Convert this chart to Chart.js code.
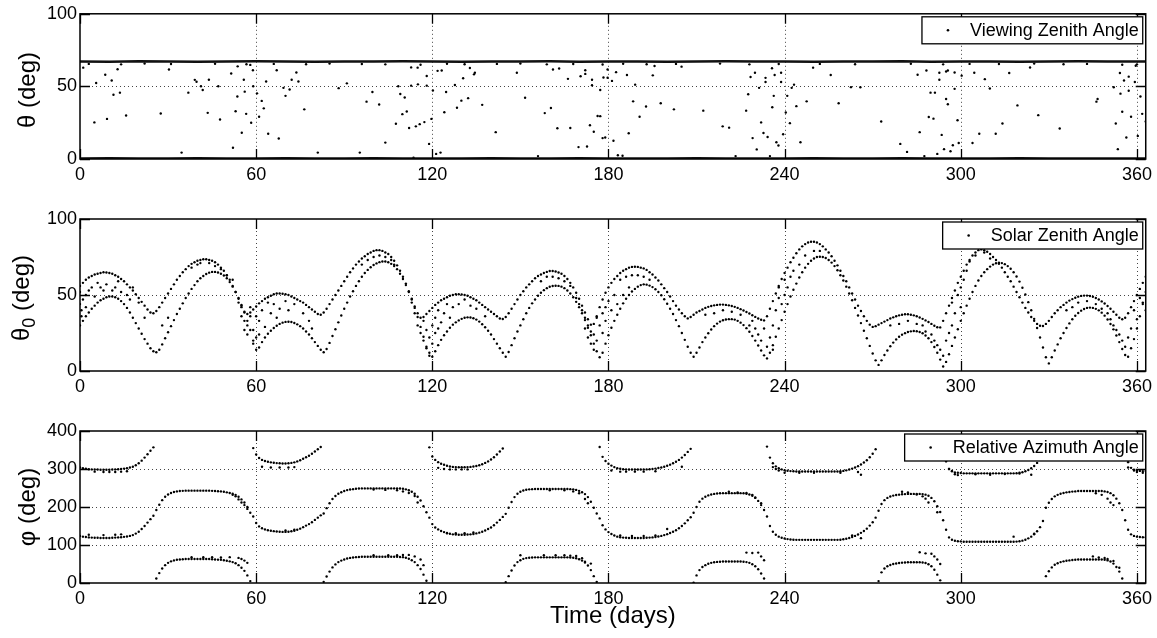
<!DOCTYPE html>
<html>
<head>
<meta charset="utf-8">
<script src="https://cdn.jsdelivr.net/npm/chart.js@4.4.1/dist/chart.umd.min.js"></script>
<style>
  html, body { margin: 0; padding: 0; background: #fff; }
  #wrap { position: relative; width: 1157px; height: 638px; }
  canvas { position: absolute; left: 0; }
</style>
</head>
<body>
<div id="wrap">
  <canvas id="c1" width="1157" height="190" style="top:0"></canvas>
  <canvas id="c2" width="1157" height="212" style="top:190px"></canvas>
  <canvas id="c3" width="1157" height="236" style="top:402px"></canvas>
</div>
<script>
const FONT = '"Liberation Sans", Arial, Helvetica, sans-serif';

// axis ticks
const xTicks = [0, 60, 120, 180, 240, 300, 360];
const zenithTicks = [0, 50, 100];
const azimuthTicks = [0, 100, 200, 300, 400];

// --- viewing zenith angle (top panel) ---
// the two dense bands, read every ~10 days
const vzaBandDays = [0, 10, 20, 30, 40, 50, 60, 70, 80, 90, 100, 110, 120, 130, 140, 150, 160, 170, 180,
  190, 200, 210, 220, 230, 240, 250, 260, 270, 280, 290, 300, 310, 320, 330, 340, 350, 360, 363];
const vzaHighBand = [67.2, 67, 67.3, 67.1, 67, 67.2, 67.3, 67.1, 67, 67.2, 67.1, 67.3, 67.2, 67, 67.1, 67.2, 67.3, 67, 67.1,
  67.2, 67, 67.1, 67.3, 67.2, 67.1, 67, 67.2, 67.1, 67.3, 67, 67.2, 67.1, 67, 67.2, 67.3, 67.1, 67.2, 67.1];
const vzaLowBand = [0.4, 0.5, 0.4, 0.3, 0.5, 0.4, 0.4, 0.5, 0.3, 0.4, 0.5, 0.4, 0.4, 0.3, 0.5, 0.4, 0.4, 0.5, 0.4,
  0.3, 0.4, 0.5, 0.4, 0.4, 0.3, 0.5, 0.4, 0.4, 0.5, 0.4, 0.3, 0.4, 0.5, 0.4, 0.4, 0.3, 0.4, 0.4];
// dots hanging just under the high band
const vzaNearDays = [3, 14, 22, 31, 46, 58, 66, 77, 85, 96, 104, 116, 125, 131, 142, 150, 159, 168, 178, 185, 193,
  203, 218, 228, 238, 252, 264, 283, 294, 303, 313, 325, 335, 343, 355, 360];
const vzaNearVals = [65.5, 65.2, 65.8, 65.4, 65.6, 64.8, 65.5, 65.3, 65.7, 65.4, 65.2, 64.9, 65.6, 65.3, 65.5, 65.8,
  65.2, 65.4, 65.1, 65.6, 65.3, 65.5, 65.7, 65.2, 65.4, 65.5, 65.3, 65.6, 65.2, 65.5, 65.4, 65.7, 65.3, 65.5, 64.9, 65.2];
// scattered viewing zenith points
const vzaDays = [1.1, 4.9, 5.5, 8.6, 9.2, 10.8, 11.4, 12.8, 13.6, 15.7, 27.5, 30.3, 34.6, 36.9, 39.1, 39.7, 41.2, 41.8,
  43.5, 43.9, 47.1, 47.7, 51.5, 52.1, 53, 53.6, 53.7, 55.1, 55.8, 56.1, 56.6, 56.7, 58.3, 58.9, 59, 60.3, 61, 61.9,
  62.6, 63.4, 64.1, 67, 67.7, 69.3, 70, 71.4, 72.1, 73.7, 74.4,
  76.4, 81, 88.1, 90.9, 95.3, 97.6, 99.6, 101.9, 104, 107.6, 108.4, 109.1, 109.8, 110.6, 111.3, 112.1, 112.8, 112.8,
  113.6, 114.4, 115, 115.1, 115.7, 117.3, 118.1, 118.1, 118.9, 119.7, 120.2, 121.3, 121.8, 122.8, 123.2, 124.1, 124.7,
  127.7, 128.4, 129.9, 130.5, 132.2, 132.8, 134.2, 134.5, 137, 141.6, 148.8, 151.6, 156, 158.3, 160.4, 161.1, 162.6,
  163.2, 166.2, 167, 169.8, 170.5, 172.1, 172.1, 172.7, 173.7, 174.4, 174.4, 175, 176.3,
  177.2, 177.2, 178, 178.3, 178.9, 179.7, 179.7, 181.2, 181.7, 182.6, 183.2, 184.8, 186.3, 186.9, 188.4, 189.1, 190.6,
  192.8, 195.1, 195.7, 197.8, 202.3, 204.9, 212.3, 218.9, 221.1, 223.3, 226.9, 227.6, 228.4, 229.1, 229.9, 230.5,
  231.3, 232, 232.8, 233.5, 233.5, 234.2, 235, 235.7, 235.8, 236.3, 236.6, 237.2, 237.9, 238.8, 238.8, 239.5, 240.4,
  240.9, 241.8, 242.4, 243.2, 244, 245.4, 247.5, 249.7, 255.7, 258.4, 262.6, 265.8,
  272.9, 279.4, 281.7, 285.3, 286, 287.6, 288.3, 289.1, 289.7, 290.7, 291.2, 292, 292.7, 292.7, 293.5, 294.3, 295, 295,
  295.6, 295.6, 296.5, 297.3, 297.9, 297.9, 298.9, 299.3, 300.3, 304, 304.6, 306.3, 308.2, 309.9, 311.9, 314.2, 316.5,
  319.3, 323.6, 326.4, 333.7, 346.2, 346.6, 352.1, 352.8, 353.5, 354.2, 354.4, 355, 355.6, 356.4, 357.2, 357.2, 358,
  359.3, 359.6, 360.3, 361.2, 361.8, 363];
const vzaVals = [62.9, 25.2, 52.3, 58, 27.6, 54.1, 44.2, 61.8, 45.7, 30, 31.3, 61.6, 4.4, 45.7, 54.5, 53.2, 50.1, 47.5,
  31.8, 54.6, 50.1, 27.2, 58.9, 7.7, 32.9, 43, 63.8, 18.1, 54.6, 46.4, 31.1, 65.3, 25, 61.1, 50.1, 45.2, 29.1, 40,
  34.9, 53.4, 17.4, 61.1, 14.1, 49, 43.5, 47.9, 54.6, 59.6, 53.4,
  34.2, 4.4, 48.8, 52.1, 4.4, 39.5, 46.1, 37.5, 11.3, 24.3, 50.1, 44.8, 30.9, 42.4, 32.7, 21.4, 63.1, 50.5,
  0.9, 22.5, 62.9, 51.4, 24, 25.4, 57.2, 50.5, 10.4, 27.6, 47.2, 3.5, 60.7, 4.4, 60.9, 32.2, 46.1,
  51, 35.3, 40.2, 55.6, 41.9, 62.7, 58.3, 59.4, 37.3, 18.5, 59.4, 42.2, 2, 31.6, 35.1, 61.6, 21.2,
  62.3, 55.2, 21.4, 8.2, 57, 61.1, 58.6, 8.6, 23.2, 54.6, 50.8, 18.8, 29.6,
  47.5, 29.5, 14.4, 56.1, 14.8, 61.6, 56, 53.8, 12.6, 59.8, 2.6, 2.2, 57.8, 17.7, 39.7, 51.2, 29.1,
  36.2, 57.6, 64, 38.4, 34.2, 63.6, 33.3, 22.5, 21.6, 2, 33.3, 44.6, 56.5, 14.4, 59.4, 6.6,
  49, 25.2, 17.9, 53, 55.9, 15.2, 2, 62.5, 35.6, 43.5, 57.8, 11.5, 9.3, 59.4, 53, 17, 32,
  43.5, 24.7, 49, 51.2, 36.4, 11.5, 39.7, 62.9, 57.8, 38.4, 49.5, 49.4,
  25.8, 10.4, 4.9, 58, 18.5, 2, 60.9, 28.9, 45.7, 27.8, 45.7, 3.5, 59.4, 54.6, 16.6, 6.8, 41.3, 60.3,
  37.7, 60.9, 5.3, 9.5, 59.6, 48.3, 26.7, 11, 57.4, 11, 59.4, 17.4, 55, 48.6, 17.4, 24.5, 59.2,
  36.9, 63, 30.2, 21, 39.5, 41.3, 49.4, 24.5, 6.8, 59.2, 45, 32.5, 54.1, 14.8, 56.7, 47, 29.1,
  53, 64.2, 15.9, 43, 31.1, 25.8];

// --- solar zenith angle (middle panel), one value per day from day 0 ---
const szaUpper = [
  56, 58, 60, 61.5, 62.5, 63.5, 64, 64.5, 65, 64.8,
  64.5, 64, 63, 62, 60.5, 59, 57, 55, 53, 50.5,
  48, 45.5, 43, 40.5, 38.5, 38, 39.5, 42, 45, 48,
  51, 54, 57, 60, 62.5, 65, 67, 69, 70.5, 71.5,
  72.5, 73, 73.5, 73.5, 73, 72.5, 71.5, 70, 68, 66,
  63, 60, 56, 52, 47.5, 43, 39, 37.5, 38.5, 40.5,
  42.5, 44.5, 46, 47.5, 48.5, 49.5, 50.5, 51, 51, 50.8,
  50.5, 50, 49, 48, 47, 46, 45, 43.5, 42, 40.5,
  39, 37.5, 37, 38.5, 41, 44, 47, 50, 53, 56,
  59, 62, 65, 67.5, 70, 72, 74, 75.5, 77, 78,
  79, 79.5, 79.5, 79, 78, 77, 75, 72.5, 69.5, 66,
  62, 57.5, 52.5, 47.5, 42.5, 38, 35, 35.5, 37.5, 39.5,
  41.5, 43.5, 45, 46.5, 47.5, 48.5, 49.5, 50, 50.5, 50.5,
  50.3, 50, 49.5, 48.5, 47.5, 46.5, 45, 43.5, 42, 40.5,
  39, 37.5, 36, 34.5, 34.2, 35.5, 38, 41, 44, 47,
  50, 52.5, 55, 57, 59, 61, 62.5, 63.5, 64.5, 65.2,
  65.8, 65.8, 65.5, 64.8, 64, 62.5, 60.5, 58, 55, 51.5,
  47.5, 43, 38.5, 34, 30.5, 31, 36, 42, 47, 51.5,
  55, 58, 60.5, 62.5, 64.5, 66, 67, 68, 68.5, 68.6,
  68.5, 68, 67.5, 66.5, 65, 63.5, 61.5, 59.5, 57, 54.5,
  52, 49, 46, 43, 40.5, 38, 36, 34.6, 35.5, 37,
  38.5, 39.5, 40.5, 41.5, 42.2, 42.8, 43.2, 43.5, 43.7, 43.7,
  43.5, 43.2, 42.8, 42.2, 41.5, 40.7, 39.8, 38.8, 37.8, 36.7,
  35.6, 34.5, 33.7, 33.3, 36, 41, 46, 51, 56, 60.5,
  64.5, 68, 71.5, 74.5, 77.5, 80, 82, 83.5, 84.5, 85,
  85, 84.5, 83.5, 82, 80, 78, 75.5, 72.5, 69.5, 66,
  62.5, 59, 55, 51, 47, 43, 39.5, 36, 33, 30.5,
  29, 29.5, 30.5, 31.5, 32.5, 33.5, 34.5, 35.3, 36, 36.6,
  37, 37.3, 37.3, 37, 36.6, 36, 35.2, 34.3, 33.3, 32.2,
  31, 29.8, 28.8, 28.7, 33, 38, 43, 48, 53, 58,
  62, 66, 70, 73, 76, 78, 79.5, 80, 79.5, 78.5,
  77, 75, 73, 70.5, 68, 65, 62, 59, 55.5, 52,
  48.5, 45, 41.5, 38.5, 35.5, 33, 31, 29.8, 29.6, 31,
  33, 35.5, 38, 40, 42, 43.5, 45, 46.3, 47.3, 48.2,
  48.9, 49.4, 49.6, 49.6, 49.3, 48.8, 48, 47, 45.8, 44.4,
  42.8, 41, 39, 37, 35, 34, 35, 38, 42, 46,
  50, 54, 58, 62];
const szaLower = [
  30, 33, 36, 38.5, 41, 43, 45, 46.5, 47.5, 48.5,
  49, 49, 48.5, 47.5, 46, 44, 41.5, 38.5, 35, 31.5,
  28, 24.5, 21, 18, 15, 13, 12.3, 14, 17.5, 21.5,
  25.5, 29.5, 33.5, 37.5, 41, 44.5, 48, 51, 54, 56.5,
  59, 61, 62.5, 63.8, 64.7, 65.2, 65.2, 64.8, 64, 62.8,
  61, 58.5, 55.5, 52, 48, 43.5, 38.5, 33, 27, 20,
  14, 15.5, 19, 22, 24.5, 26.5, 28.3, 29.8, 31, 31.8,
  32.3, 32.4, 32.2, 31.6, 30.7, 29.5, 28, 26, 24, 21.5,
  19, 16.5, 14, 12.3, 14.5, 18.5, 23, 27.5, 32, 36.5,
  41, 45, 49, 52.5, 56, 59, 62, 64.5, 66.5, 68.3,
  69.7, 70.8, 71.6, 72, 72, 71.5, 70.5, 69, 67, 64,
  60.5, 56.5, 52, 47, 41.5, 35.5, 29, 22.5, 16, 10,
  9.4, 13, 17, 20.5, 23.5, 26, 28.5, 30.5, 32, 33.3,
  34.3, 35, 35.3, 35.2, 34.7, 33.8, 32.5, 30.8, 28.8, 26.5,
  24, 21, 18, 15, 12, 9.4, 12.5, 17, 21.5, 26,
  30, 34, 38, 41.5, 44.5, 47, 49.5, 51.5, 53.2, 54.5,
  55.4, 55.9, 56.1, 56, 55.5, 54.5, 53, 51, 48.5, 45.5,
  42, 38, 33.5, 28.5, 23.5, 18, 13, 9, 12, 18,
  23.5, 28.5, 33, 37, 41, 44.5, 47.5, 50, 52.3, 54,
  55.5, 56.5, 57, 56.8, 56.2, 55.2, 53.8, 52, 49.8, 47.2,
  44.2, 41, 37.5, 33.5, 29.5, 25, 20.5, 16, 12, 9.4,
  12, 15.5, 19, 22, 24.8, 27.3, 29.5, 31.2, 32.5, 33.4,
  33.9, 34.1, 34.1, 33.8, 33, 31.8, 30.2, 28.2, 25.8, 23,
  20, 16.8, 13.5, 10.3, 8.3, 12, 17, 22.5, 28, 33.5,
  39, 44, 49, 53.5, 57.5, 61.5, 65, 68, 70.5, 72.5,
  74, 75, 75.2, 75, 74.3, 73, 71.3, 69, 66.3, 63,
  59.5, 55.5, 51, 46.5, 41.5, 36.5, 31.5, 26.5, 21.5, 16.5,
  11.5, 7, 4, 7, 10.5, 13.5, 16.3, 18.7, 20.8, 22.5,
  23.9, 24.9, 25.7, 26.1, 26.3, 26.2, 25.7, 24.8, 23.4, 21.5,
  19, 15.8, 12, 7.5, 3, 6, 11, 16.5, 22, 27.5,
  33, 38, 43, 47.5, 52, 56, 59.5, 62.5, 65, 67,
  68.7, 70, 70.9, 71.3, 71, 70.3, 69, 67.3, 65, 62.2,
  58.8, 54.8, 50.3, 45.3, 40, 34.3, 28.3, 22, 15.5, 9,
  5, 9, 13.5, 17.5, 21.5, 25, 28.3, 31.3, 34, 36.3,
  38.2, 39.7, 40.8, 41.5, 41.7, 41.5, 40.9, 39.9, 38.4, 36.4,
  33.9, 30.9, 27.4, 23.4, 19, 14.5, 10.5, 9.4, 15, 21,
  28, 36, 44, 52];
// scattered solar zenith points between the two tracks
const szaDays = [0, 0, 0.5, 0.5, 1, 2, 2, 3, 4, 5, 6, 7, 8, 9, 11, 12, 13, 14, 16, 17, 18, 20, 22, 28, 30, 38, 40, 41,
  44, 46, 48, 50, 52, 54, 55, 55, 56, 56, 57, 57, 58, 58, 59, 59, 60, 60, 61, 61, 62, 63, 64, 65, 66, 67, 68, 70, 71,
  73, 76, 78, 79,
  96, 98, 100, 102, 104, 106, 107, 113, 114, 115, 116, 117, 117, 118, 118, 119, 119, 120, 120, 121, 121, 122, 122, 123,
  124, 125, 126, 127, 129, 131, 133, 135, 138,
  157, 159, 161, 163, 165, 167, 169, 170, 171, 172, 172, 173, 173, 174, 174, 175, 175, 176, 176, 177, 178, 178, 179,
  179, 180, 181, 182, 183, 185, 187,
  184, 186, 188, 190, 192, 194, 213, 216, 219, 222, 225, 228, 229, 230, 231, 232, 233, 234, 235, 236, 236, 237, 238,
  238, 239, 240, 240, 241, 242, 243, 245, 247, 250, 252,
  276, 279, 282, 285, 287, 288, 290, 291, 292, 293, 294, 295, 296, 297, 297, 298, 299, 300, 300, 301, 302, 303, 305,
  308, 310,
  336, 338, 340, 343, 346, 348, 350, 351, 352, 353, 354, 355, 356, 357, 358, 359, 360, 361, 362, 363];
const szaVals = [52, 44, 40, 36, 47, 50, 42, 53, 55, 49, 58, 55, 53, 57, 53, 55, 59, 52, 50, 47, 55, 45, 35, 30, 35, 68,
  70, 71, 71, 69, 67, 63, 60, 45, 42, 36, 33, 27, 24, 30, 36, 42, 18, 27, 36, 22, 33, 24, 40, 29, 45, 38, 44, 35, 41,
  46, 40, 44, 38, 33, 28,
  70, 73, 75, 76, 75, 73, 70, 45, 38, 30, 25, 20, 33, 15, 27, 12, 22, 30, 18, 25, 35, 28, 40, 32,
  38, 44, 35, 42, 44, 47, 43, 41, 36,
  59, 62, 62, 61, 59, 56, 48, 44, 40, 35, 28, 30, 22, 26, 18, 14, 24, 20, 35, 30, 38, 25, 42,
  33, 46, 40, 50, 44, 50, 55,
  60, 62, 63, 63, 62, 60, 37, 38, 40, 39, 37, 30, 33, 28, 24, 20, 28, 16, 22, 14, 30, 40, 48,
  55, 44, 60, 50, 55, 62, 66, 70, 76, 79, 79,
  30, 31, 33, 31, 30, 26, 24, 20, 17, 14, 10, 20, 25, 30, 45, 38, 50, 55, 42, 60, 66, 72, 76,
  78, 74,
  40, 42, 45, 46, 44, 41, 38, 34, 30, 27, 24, 20, 16, 22, 28, 40, 34, 48, 45, 40];

// --- relative azimuth angle (bottom panel), one value per day from day 0 ---
const phiA = [
  304, 302, 300.5, 299.5, 299, 298.5, 298.5, 298, 298, 298,
  298, 298.5, 299, 299.5, 300, 301, 302, 304, 306, 310,
  315, 322, 330, 339, 348, 357, 12, 26, 38, 47,
  53, 57, 59.5, 61, 62, 62.5, 63, 63, 63, 63,
  63, 63, 63, 63, 63, 62.5, 62, 61.5, 61, 60,
  58.5, 57, 55, 52, 47, 40, 32, 20, 5, 355,
  338, 329, 324, 321, 319, 317.5, 316.5, 315.5, 315, 314.5,
  314.5, 315, 316, 317.5, 320, 323, 327, 331, 335, 340,
  346, 352, 358, 3, 17, 30, 41, 49, 55, 59,
  62, 64.5, 66, 67, 68, 68.5, 69, 69, 69, 69,
  69, 69, 69, 69, 69, 69, 69, 69, 69, 68.5,
  68, 66.5, 64, 60, 55, 47, 37, 22, 6, 357,
  333, 324, 318, 314, 311, 308.5, 306.5, 305.5, 305, 304.5,
  304.5, 304.5, 305, 305.5, 306.5, 308, 310, 312.5, 316, 320,
  325, 331, 338, 346, 354, 2, 18, 33, 46, 55,
  60, 63.5, 65.5, 66.5, 67, 67.5, 67.5, 67.5, 67.5, 67.5,
  67.5, 67.5, 67.5, 67.5, 67.5, 67.5, 67.5, 67, 66.5, 65,
  62.5, 59, 54, 46, 34, 18, 3, 358, 332, 321,
  314, 309, 305, 302, 300.5, 299.5, 299, 298.5, 298.5, 298.5,
  298.5, 298.5, 298.5, 299, 299.5, 300, 301, 302.5, 304, 306,
  308.5, 311.5, 315, 319, 324, 330, 337, 345, 353, 1,
  20, 34, 42, 47, 50.5, 53, 54.5, 55.5, 56, 56.5,
  56.5, 56.5, 56.5, 56.5, 56.5, 56.5, 56, 55, 53, 49.5,
  44, 36, 25, 12, 359, 330, 315, 307, 302, 299,
  297, 295.5, 294.5, 294, 293.5, 293.5, 293.5, 293.5, 293.5, 293.5,
  293.5, 293.5, 293.5, 293.5, 293.5, 293.5, 293.5, 293.5, 293.5, 294,
  295, 296.5, 298.5, 301, 304, 307.5, 312, 317, 323, 331,
  340, 352, 5, 28, 38, 44, 47.5, 50, 51.5, 52.5,
  53.5, 54, 54.5, 54.5, 54.5, 54.5, 54.5, 54, 52.5, 49.5,
  44, 35, 22, 7, 345, 320, 300, 294, 291, 290,
  289.5, 288.5, 288.5, 288.5, 288.5, 288.5, 288.5, 288.5, 288.5, 288.5,
  288.5, 288.5, 288.5, 288.5, 288.5, 288.5, 288.5, 288.5, 288.5, 289,
  290, 291.5, 294, 297.5, 302, 308, 316, 327, 343, 18,
  31, 41, 48, 52, 55, 57, 58.5, 59.5, 60.5, 61,
  62, 62, 62, 62, 62, 62, 62, 62, 62, 61,
  59.5, 56.5, 51, 42, 30, 12, 335, 318, 303, 298,
  296, 295, 294.5, 294.5];
const phiB = [
  124, 122, 121, 120, 119.5, 119, 119, 118.5, 118.5, 118.5,
  118.5, 119, 119.5, 120, 120.5, 121.5, 122.5, 124, 126, 130,
  135, 142, 150, 159, 168, 177, 192, 206, 218, 227,
  233, 237, 239.5, 241, 242, 242.5, 243, 243, 243, 243,
  243, 243, 243, 243, 243, 242.5, 242, 241.5, 241, 240,
  238.5, 237, 235, 232, 227, 220, 212, 200, 185, 175,
  158, 149, 144, 141, 139, 137.5, 136.5, 135.5, 135, 134.5,
  134.5, 135, 136, 137.5, 140, 143, 147, 151, 155, 160,
  166, 172, 178, 183, 197, 210, 221, 229, 235, 239,
  242, 244.5, 246, 247, 248, 248.5, 249, 249, 249, 249,
  249, 249, 249, 249, 249, 249, 249, 249, 249, 248.5,
  248, 246.5, 244, 240, 235, 227, 217, 202, 186, 172,
  155, 146, 141, 137, 134, 131.5, 129.5, 128, 127.5, 127,
  127, 127, 127.5, 128, 129, 130.5, 132.5, 135, 138, 142,
  146, 152, 159, 166, 174, 182, 198, 213, 226, 235,
  240, 243.5, 245.5, 246.5, 247, 247.5, 247.5, 247.5, 247.5, 247.5,
  247.5, 247.5, 247.5, 247.5, 247.5, 247.5, 247.5, 247, 246.5, 245,
  242.5, 239, 234, 226, 214, 198, 183, 170, 152, 141,
  134, 129, 125, 122, 120.5, 119.5, 119, 118.5, 118.5, 118.5,
  118.5, 118.5, 118.5, 119, 119.5, 120, 121, 122.5, 124, 126,
  128.5, 131.5, 135, 139, 144, 150, 157, 165, 173, 185,
  200, 214, 222, 227, 230.5, 233, 234.5, 235.5, 236, 236.5,
  236.5, 236.5, 236.5, 236.5, 236.5, 236.5, 236, 235, 233, 229.5,
  224, 216, 205, 192, 175, 150, 135, 127, 122, 119,
  117, 115.5, 114.5, 114, 113.5, 113.5, 113.5, 113.5, 113.5, 113.5,
  113.5, 113.5, 113.5, 113.5, 113.5, 113.5, 113.5, 113.5, 113.5, 114,
  115, 116.5, 118.5, 121, 124, 127.5, 132, 137, 143, 151,
  160, 172, 190, 208, 218, 224, 227.5, 230, 231.5, 232.5,
  233.5, 234, 234.5, 234.5, 234.5, 234.5, 234.5, 234, 232.5, 229.5,
  224, 215, 202, 187, 165, 140, 120, 114, 111, 110,
  109.5, 108.5, 108.5, 108.5, 108.5, 108.5, 108.5, 108.5, 108.5, 108.5,
  108.5, 108.5, 108.5, 108.5, 108.5, 108.5, 108.5, 108.5, 108.5, 109,
  110, 111.5, 114, 117.5, 122, 128, 136, 147, 163, 198,
  211, 221, 228, 232, 235, 237, 238.5, 239.5, 240.5, 241,
  242, 242, 242, 242, 242, 242, 242, 242, 242, 241,
  239.5, 236.5, 231, 222, 210, 192, 165, 140, 128, 124,
  122, 121, 120.5, 120.5];
// points lying off the two azimuth tracks
const phiOffDays = [5, 8, 10, 12, 14, 16, 3, 8, 12, 14,
  38, 42, 45, 48, 51, 54, 55, 56, 57, 52, 53, 54, 55, 56, 57,
  62, 65, 68, 71, 73, 70, 73,
  100, 105, 108, 110, 112, 114, 116, 117, 122, 124, 126, 128, 130, 132, 100, 104, 108, 110, 112, 114, 115, 125, 128,
  131, 134,
  150, 158, 162, 165, 167, 169, 171, 172, 174, 160, 165, 168, 170, 172, 173,
  181, 184, 186, 189, 192, 196, 205, 184, 188, 192, 196, 200,
  221, 224, 227, 229, 230, 232, 227, 229, 231, 232, 233,
  236, 237, 238, 240, 245, 250, 259, 265, 266, 263, 266,
  280, 282, 285, 287, 288, 289, 292, 286, 288, 290, 291, 292, 293,
  296, 297, 298, 299, 305, 310, 315, 320, 324, 318, 325,
  345, 347, 349, 350, 352, 354, 346, 348, 350, 351, 352, 357, 359, 360, 362];
const phiOffVals = [293, 292, 292, 292, 293, 294, 127, 126, 127, 128,
  68, 68, 68, 67, 68, 66, 63, 59, 53, 232, 228, 220, 212, 205, 195,
  306, 304, 304, 304, 305, 138, 140,
  73, 73, 73, 74, 74, 70, 62, 47, 303, 300, 299, 299, 299, 299, 246, 245, 244, 241, 237, 229, 212, 131, 131,
  131, 133,
  73, 73, 73, 73, 72, 71, 65, 56, 51, 244, 244, 241, 236, 221, 210,
  296, 293, 293, 293, 293, 294, 306, 125, 124, 124, 125, 142,
  240, 238, 237, 232, 225, 210, 80, 79, 80, 70, 60,
  305, 300, 296, 290, 290, 290, 290, 292, 285, 125, 118,
  240, 238, 233, 228, 222, 212, 186, 81, 78, 77, 70, 62, 50,
  300, 295, 286, 284, 286, 285, 287, 288, 285, 122, 130,
  70, 67, 66, 63, 58, 40, 236, 232, 222, 212, 205, 304, 296, 292, 290];

// ------------------------------------------------------------------

const dotStyle = {
  showLine: false,
  pointRadius: 1.2,
  pointHoverRadius: 1.2,
  pointBackgroundColor: '#000',
  pointBorderWidth: 0
};

function pairs(xs, ys) {
  return ys.map((v, i) => ({ x: xs[i], y: v }));
}
function daily(ys) {
  return ys.map((v, i) => ({ x: i, y: v }));
}

// grid, frame, inner ticks, boxed legend and y title
const framePlugin = {
  id: 'frame',
  beforeDatasetsDraw(chart) {
    const { ctx, chartArea: a, scales: { x, y } } = chart;
    ctx.save();
    ctx.strokeStyle = '#444';
    ctx.lineWidth = 1;
    ctx.setLineDash([1, 3]);
    ctx.beginPath();
    x.ticks.forEach(t => {
      if (t.value <= x.min || t.value >= x.max) return;
      const px = Math.round(x.getPixelForValue(t.value)) + 0.5;
      ctx.moveTo(px, a.top);
      ctx.lineTo(px, a.bottom);
    });
    y.ticks.forEach(t => {
      if (t.value <= y.min || t.value >= y.max) return;
      const py = Math.round(y.getPixelForValue(t.value)) + 0.5;
      ctx.moveTo(a.left, py);
      ctx.lineTo(a.right, py);
    });
    ctx.stroke();
    ctx.restore();
  },
  afterDatasetsDraw(chart, args, opts) {
    const { ctx, chartArea: a, scales: { x, y } } = chart;
    const T = 10;
    ctx.save();
    ctx.strokeStyle = '#000';
    ctx.lineWidth = 1.3;
    ctx.beginPath();
    x.ticks.forEach(t => {
      const px = Math.round(x.getPixelForValue(t.value)) + 0.5;
      ctx.moveTo(px, a.bottom); ctx.lineTo(px, a.bottom - T);
      ctx.moveTo(px, a.top); ctx.lineTo(px, a.top + T);
    });
    y.ticks.forEach(t => {
      const py = Math.round(y.getPixelForValue(t.value)) + 0.5;
      ctx.moveTo(a.left, py); ctx.lineTo(a.left + T, py);
      ctx.moveTo(a.right, py); ctx.lineTo(a.right - T, py);
    });
    ctx.stroke();
    ctx.lineWidth = 1.5;
    ctx.strokeRect(a.left, a.top, a.right - a.left, a.bottom - a.top);

    // legend box
    ctx.font = '18px ' + FONT;
    const tw = ctx.measureText(opts.legend).width;
    const bw = tw + 52, bh = 27;
    const bx = a.right - 3 - bw, by = a.top + 3;
    ctx.fillStyle = '#fff';
    ctx.fillRect(bx, by, bw, bh);
    ctx.lineWidth = 1.3;
    ctx.strokeRect(bx, by, bw, bh);
    ctx.fillStyle = '#000';
    ctx.beginPath();
    ctx.arc(bx + 26, by + bh / 2, 1.3, 0, 2 * Math.PI);
    ctx.fill();
    ctx.textAlign = 'left';
    ctx.textBaseline = 'middle';
    ctx.fillText(opts.legend, bx + 48, by + bh / 2 + 1);
    ctx.restore();
  },
  afterDraw(chart, args, opts) {
    const t = opts.yTitle;
    const ctx = chart.ctx;
    const big = '24px ' + FONT, small = '18px ' + FONT;
    ctx.save();
    ctx.translate(t.x, t.y);
    ctx.rotate(-Math.PI / 2);
    ctx.fillStyle = '#000';
    ctx.textAlign = 'left';
    ctx.textBaseline = 'middle';
    ctx.font = big;
    const w1 = ctx.measureText(t.main).width;
    const w3 = ctx.measureText(t.rest).width;
    ctx.font = small;
    const w2 = t.sub ? ctx.measureText(t.sub).width : 0;
    let cx = -(w1 + w2 + w3) / 2;
    ctx.font = big;
    ctx.fillText(t.main, cx, 0);
    cx += w1;
    if (t.sub) {
      ctx.font = small;
      ctx.fillText(t.sub, cx, 8);
      cx += w2;
    }
    ctx.font = big;
    ctx.fillText(t.rest, cx, 0);
    ctx.restore();
  }
};

function makeOptions(cfg) {
  return {
    responsive: false,
    animation: false,
    events: [],
    layout: { padding: { top: cfg.padTop, right: 7, left: 0, bottom: 0 } },
    plugins: {
      legend: { display: false },
      tooltip: { enabled: false },
      frame: { legend: cfg.legend, yTitle: cfg.yTitle }
    },
    scales: {
      x: {
        type: 'linear',
        min: 0,
        max: 363,
        afterBuildTicks: s => { s.ticks = xTicks.map(v => ({ value: v })); },
        afterFit: s => { s.height = cfg.xHeight; },
        grid: { display: false, drawTicks: false },
        border: { display: false },
        ticks: { font: { family: FONT, size: 18 }, color: '#000', padding: 5, maxRotation: 0, autoSkip: false },
        title: cfg.xTitle
          ? { display: true, text: cfg.xTitle, color: '#000', font: { family: FONT, size: 24 }, padding: { top: 0, bottom: 7 } }
          : { display: false }
      },
      y: {
        type: 'linear',
        min: cfg.ymin,
        max: cfg.ymax,
        afterBuildTicks: s => { s.ticks = cfg.yTicks.map(v => ({ value: v })); },
        afterFit: s => { s.width = 80; },
        grid: { display: false, drawTicks: false },
        border: { display: false },
        ticks: { font: { family: FONT, size: 18 }, color: '#000', padding: 3 }
      }
    }
  };
}

Chart.register(framePlugin);

new Chart(document.getElementById('c1'), {
  type: 'scatter',
  data: {
    datasets: [
      { data: pairs(vzaBandDays, vzaHighBand), showLine: true, borderColor: '#111', borderWidth: 2.4, pointRadius: 0 },
      { data: pairs(vzaBandDays, vzaLowBand), showLine: true, borderColor: '#111', borderWidth: 2.4, pointRadius: 0 },
      { data: pairs(vzaNearDays, vzaNearVals), ...dotStyle },
      { data: pairs(vzaDays, vzaVals), ...dotStyle }
    ]
  },
  options: makeOptions({
    padTop: 8, xHeight: 31, ymin: 0, ymax: 100, yTicks: zenithTicks,
    legend: 'Viewing Zenith Angle',
    yTitle: { x: 28, y: 90, main: 'θ', sub: '', rest: ' (deg)' }
  })
});

new Chart(document.getElementById('c2'), {
  type: 'scatter',
  data: {
    datasets: [
      { data: daily(szaUpper), ...dotStyle },
      { data: daily(szaLower), ...dotStyle },
      { data: pairs(szaDays, szaVals), ...dotStyle }
    ]
  },
  options: makeOptions({
    padTop: 29, xHeight: 31, ymin: 0, ymax: 100, yTicks: zenithTicks,
    legend: 'Solar Zenith Angle',
    yTitle: { x: 22, y: 108, main: 'θ', sub: '0', rest: ' (deg)' }
  })
});

new Chart(document.getElementById('c3'), {
  type: 'scatter',
  data: {
    datasets: [
      { data: daily(phiA), ...dotStyle },
      { data: daily(phiB), ...dotStyle },
      { data: pairs(phiOffDays, phiOffVals), ...dotStyle }
    ]
  },
  options: makeOptions({
    padTop: 29, xHeight: 55, ymin: 0, ymax: 400, yTicks: azimuthTicks,
    legend: 'Relative Azimuth Angle',
    xTitle: 'Time (days)',
    yTitle: { x: 28, y: 105, main: 'φ', sub: '', rest: ' (deg)' }
  })
});
</script>
</body>
</html>
